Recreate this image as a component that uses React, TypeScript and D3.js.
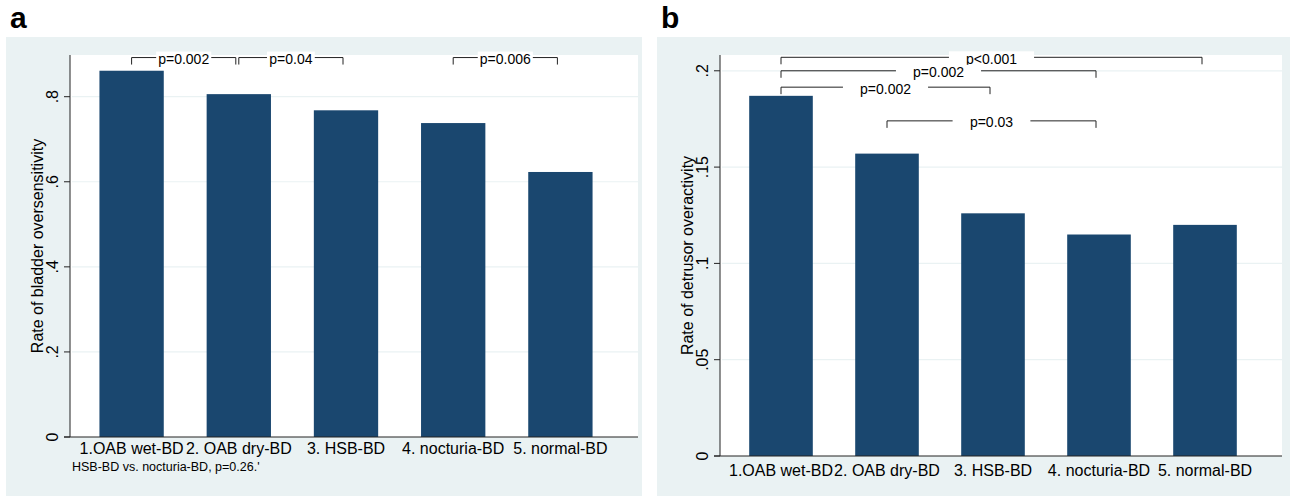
import * as d3 from "d3";

const groups = ["1.OAB wet-BD", "2. OAB dry-BD", "3. HSB-BD", "4. nocturia-BD", "5. normal-BD"];
const oversensitivity = [0.861, 0.806, 0.768, 0.738, 0.623];
const detrusor = [0.187, 0.157, 0.126, 0.115, 0.12];

const ticksA = [0, 0.2, 0.4, 0.6, 0.8];
const tickLabelsA = ["0", ".2", ".4", ".6", ".8"];
const ticksB = [0, 0.05, 0.1, 0.15, 0.2];
const tickLabelsB = ["0", ".05", ".1", ".15", ".2"];

// significance brackets: group indices, label, y level (data units)
const bracketsA = [
  { from: 0, to: 1, label: "p=0.002", y: 0.892 },
  { from: 1, to: 2, label: "p=0.04", y: 0.892 },
  { from: 3, to: 4, label: "p=0.006", y: 0.892 },
];
const bracketsB = [
  { from: 0, to: 4, label: "p<0.001", y: 0.207 },
  { from: 0, to: 3, label: "p=0.002", y: 0.2 },
  { from: 0, to: 2, label: "p=0.002", y: 0.1915 },
  { from: 1, to: 3, label: "p=0.03", y: 0.174 },
];

const BAR = "#1a476f";
const BG = "#eaf2f3";
const FONT = "'Liberation Sans', Arial, sans-serif";

type Bracket = { from: number; to: number; label: string; y: number };

const Panel = ({
  letter,
  left,
  width,
  axisX,
  plotRight,
  zeroY,
  yMax,
  values,
  ticks,
  tickLabels,
  title,
  brackets,
  labelY,
  textGap,
  footnote,
}: {
  letter: string;
  left: number;
  width: number;
  axisX: number;
  plotRight: number;
  zeroY: number;
  yMax: number;
  values: number[];
  ticks: number[];
  tickLabels: string[];
  title: string;
  brackets: Bracket[];
  labelY: number;
  textGap: number;
  footnote?: string;
}) => {
  const plotTop = 55;
  const y = d3.scaleLinear().domain([0, yMax]).range([zeroY, plotTop]);
  const x = d3
    .scaleBand<string>()
    .domain(groups)
    .range([axisX + 8, plotRight - 24])
    .paddingInner(0.4)
    .paddingOuter(0.2);
  const cx = (i: number) => x(groups[i])! + x.bandwidth() / 2;

  return (
    <g>
      <text x={left + 4} y={28} fontFamily={FONT} fontWeight="bold" fontSize={30}>
        {letter}
      </text>
      <rect x={left} y={37} width={width} height={459} fill={BG} />
      <rect x={axisX} y={plotTop} width={plotRight - axisX} height={zeroY - plotTop} fill="white" />
      {/* gridlines */}
      {ticks.slice(1).map((t) => (
        <line key={t} x1={axisX + 2} x2={plotRight} y1={y(t)} y2={y(t)} stroke={BG} strokeWidth={1.2} />
      ))}
      {/* bars */}
      {values.map((v, i) => (
        <rect
          key={groups[i]}
          x={x(groups[i])}
          y={y(v)}
          width={x.bandwidth()}
          height={y(0) - y(v)}
          fill={BAR}
        />
      ))}
      {/* axes */}
      <line x1={axisX} x2={axisX} y1={plotTop} y2={zeroY} stroke="#222" />
      <line x1={axisX - 6} x2={plotRight} y1={zeroY} y2={zeroY} stroke="#222" />
      {ticks.map((t, i) => (
        <g key={t}>
          <line x1={axisX - 6} x2={axisX} y1={y(t)} y2={y(t)} stroke="#222" />
          <text
            transform={`translate(${axisX - 12},${y(t)}) rotate(-90)`}
            textAnchor="middle"
            fontFamily={FONT}
            fontSize={16}
          >
            {tickLabels[i]}
          </text>
        </g>
      ))}
      <text
        transform={`translate(${axisX - 27},${(plotTop + zeroY) / 2}) rotate(-90)`}
        textAnchor="middle"
        fontFamily={FONT}
        fontSize={16}
      >
        {title}
      </text>
      {groups.map((g, i) => (
        <text key={g} x={cx(i)} y={labelY} textAnchor="middle" fontFamily={FONT} fontSize={16}>
          {g}
        </text>
      ))}
      {footnote && (
        <text
          x={axisX + 2}
          y={labelY + 17}
          fontFamily="'Liberation Sans Narrow', 'Arial Narrow', sans-serif"
          fontSize={12.5}
        >
          {footnote}
        </text>
      )}
      {/* significance brackets */}
      {brackets.map((b, k) => {
        const x1 = cx(b.from);
        const x2 = cx(b.to) - 3;
        const by = y(b.y);
        const mid = (x1 + x2) / 2;
        const tw = b.label.length * 7.3 + textGap * 2;
        return (
          <g key={k}>
            <path
              d={`M${x1},${by + 7}V${by}H${x2}V${by + 7}`}
              fill="none"
              stroke="#222"
              strokeWidth={1}
            />
            <rect x={mid - tw / 2} y={by - 6} width={tw} height={12} fill="white" />
            <text
              x={mid}
              y={by + 1.5}
              dy="0.35em"
              textAnchor="middle"
              fontFamily={FONT}
              fontSize={14}
            >
              {b.label}
            </text>
          </g>
        );
      })}
    </g>
  );
};

export default function App() {
  return (
    <svg
      width={1295}
      height={498}
      style={{ position: "absolute", left: 0, top: 0, background: "white" }}
    >
      <Panel
        letter="a"
        left={6}
        width={636}
        axisX={70}
        plotRight={638}
        zeroY={437}
        yMax={0.898}
        values={oversensitivity}
        ticks={ticksA}
        tickLabels={tickLabelsA}
        title="Rate of bladder oversensitivity"
        brackets={bracketsA}
        labelY={454}
        textGap={2}
        footnote="HSB-BD vs. nocturia-BD, p=0.26.'"
      />
      <Panel
        letter="b"
        left={657}
        width={633}
        axisX={720}
        plotRight={1282}
        zeroY={456}
        yMax={0.2082}
        values={detrusor}
        ticks={ticksB}
        tickLabels={tickLabelsB}
        title="Rate of detrusor overactivity"
        brackets={bracketsB}
        labelY={476}
        textGap={17}
      />
    </svg>
  );
}
